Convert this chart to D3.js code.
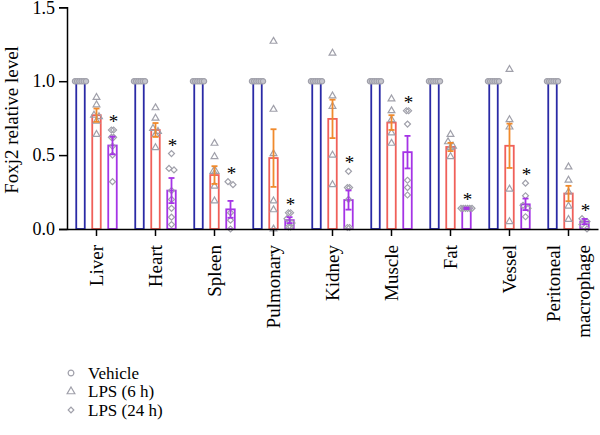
<!DOCTYPE html>
<html>
<head>
<meta charset="utf-8">
<script src="https://cdn.jsdelivr.net/npm/d3@7"></script>
<style>
  body { margin: 0; background: #fff; }
  svg text { font-family: "Liberation Serif", "DejaVu Serif", serif; }
</style>
</head>
<body>
<div id="chart"></div>
<script>
// Foxj2 relative level per organ, vehicle vs LPS 6 h vs LPS 24 h
const organs = ["Liver", "Heart", "Spleen", "Pulmonary", "Kidney", "Muscle", "Fat", "Vessel", "Peritoneal macrophage"];
const seriesNames = ["Vehicle", "LPS (6 h)", "LPS (24 h)"];

const vehicleMean = [1, 1, 1, 1, 1, 1, 1, 1, 1];
const vehicleSem = [0, 0, 0, 0, 0, 0, 0, 0, 0];
const vehiclePoints = organs.map(() => [1, 1, 1, 1, 1, 1]);

const lps6Mean = [0.77, 0.67, 0.365, 0.48, 0.745, 0.72, 0.555, 0.563, 0.24];
const lps6Sem = [0.045, 0.047, 0.06, 0.195, 0.13, 0.05, 0.028, 0.15, 0.052];
const lps6Points = [
  [0.89, 0.84, 0.77, 0.76, 0.73, 0.64],
  [0.82, 0.75, 0.68, 0.66, 0.64, 0.55],
  [0.58, 0.49, 0.39, 0.39, 0.29, 0.19],
  [1.27, 0.81, 0.51, 0.19, 0.13, 0.0],
  [1.19, 0.90, 0.83, 0.50, 0.30],
  [0.88, 0.80, 0.74, 0.65, 0.58],
  [0.64, 0.59, 0.56, 0.55, 0.49],
  [1.08, 0.74, 0.69, 0.27, 0.05],
  [0.42, 0.33, 0.25, 0.155, 0.065]
];

const lps24Mean = [0.565, 0.26, 0.133, 0.06, 0.196, 0.52, 0.14, 0.167, 0.05];
const lps24Sem = [0.06, 0.085, 0.057, 0.02, 0.065, 0.11, 0.005, 0.039, 0.018];
const lps24Points = [
  [0.67, 0.67, 0.62, 0.62, 0.56, 0.50, 0.32],
  [0.51, 0.41, 0.40, 0.26, 0.20, 0.14, 0.08, 0.03],
  [0.32, 0.30, 0.11, 0.06, 0.0],
  [0.11, 0.11, 0.07, 0.04, 0.015, 0.015],
  [0.39, 0.28, 0.28, 0.20, 0.01, 0.01],
  [0.80, 0.80, 0.71, 0.33, 0.28, 0.23],
  [0.14, 0.14, 0.14, 0.14, 0.14, 0.14],
  [0.31, 0.225, 0.16, 0.14, 0.083],
  [0.07, 0.05, 0.03, 0.0]
];

const yTicks = [0, 0.5, 1.0, 1.5];

const width = 600, height = 435;
const barColor = ["#2a2aa6", "#f0605a", "#a534e6"];
const errColor = ["#2a2aa6", "#f08a2c", "#a534e6"];
const ptColor = "#a0a0aa";

const svg = d3.select("#chart").append("svg")
  .attr("width", width)
  .attr("height", height);

const x = d3.scaleBand().domain(organs).range([67, 598]);
const xs = d3.scaleBand().domain(seriesNames).range([-24, 24]);
const y = d3.scaleLinear().domain([0, 1.5]).range([229, 7.3]);

const series = [
  { name: seriesNames[0], mean: vehicleMean, sem: vehicleSem, pts: vehiclePoints, sym: d3.symbolCircle, size: 22 },
  { name: seriesNames[1], mean: lps6Mean, sem: lps6Sem, pts: lps6Points, sym: d3.symbolTriangle, size: 20 },
  { name: seriesNames[2], mean: lps24Mean, sem: lps24Sem, pts: lps24Points, sym: d3.symbolSquare, size: 18 }
];

// points close in y are grouped into a row and spread symmetrically
function dodge(values, minDy) {
  const order = values.map((v, i) => i).sort((a, b) => values[b] - values[a]);
  const off = [];
  let row = [];
  const flush = () => {
    if (!row.length) return;
    const ys = row.map(i => y(values[i]));
    const step = d3.max(ys) - d3.min(ys) < 1 ? 2.2 : 5;
    row.forEach((i, j) => { off[i] = (j - (row.length - 1) / 2) * step; });
    row = [];
  };
  order.forEach(i => {
    if (row.length && Math.abs(y(values[i]) - y(values[row[0]])) >= minDy) flush();
    row.push(i);
  });
  flush();
  return off;
}

const center = s => xs(s) + xs.bandwidth() / 2;
const barW = 8.5;

const g = svg.append("g");

// bars
series.forEach((s, si) => {
  g.selectAll(null)
    .data(organs)
    .enter()
    .append("rect")
    .attr("x", d => x(d) + x.bandwidth() / 2 + center(s.name) - barW / 2)
    .attr("y", (d, i) => y(s.mean[i]))
    .attr("width", barW)
    .attr("height", (d, i) => y(0) - y(s.mean[i]))
    .attr("fill", "#fff")
    .attr("stroke", barColor[si])
    .attr("stroke-width", 1.8);
});

// points
series.forEach((s, si) => {
  organs.forEach((org, i) => {
    const offs = dodge(s.pts[i], 4.5);
    const cx = x(org) + x.bandwidth() / 2 + center(s.name);
    g.selectAll(null)
      .data(s.pts[i])
      .enter()
      .append("path")
      .attr("d", d3.symbol().type(s.sym).size(s.size))
      .attr("transform", (d, j) => "translate(" + (cx + offs[j]) + "," + y(d) + ")" + (si === 2 ? " rotate(45)" : ""))
      .attr("fill", si === 0 ? "#c4c4cc" : "none")
      .attr("stroke", ptColor)
      .attr("stroke-width", 1.2);
  });
});

// error bars
series.forEach((s, si) => {
  if (si === 0) return;
  organs.forEach((org, i) => {
    const cx = x(org) + x.bandwidth() / 2 + center(s.name);
    const top = y(s.mean[i] + s.sem[i]), bot = y(Math.max(0, s.mean[i] - s.sem[i]));
    const eg = g.append("g").attr("stroke", errColor[si]).attr("stroke-width", 1.8);
    eg.append("line").attr("x1", cx).attr("x2", cx).attr("y1", top).attr("y2", bot);
    eg.append("line").attr("x1", cx - 3).attr("x2", cx + 3).attr("y1", top).attr("y2", top);
    eg.append("line").attr("x1", cx - 3).attr("x2", cx + 3).attr("y1", bot).attr("y2", bot);
  });
});

// significance stars over LPS 24 h
g.selectAll(null)
  .data(organs)
  .enter()
  .append("text")
  .attr("x", d => x(d) + x.bandwidth() / 2 + center(seriesNames[2]) + 1)
  .attr("y", (d, i) => Math.min(y(d3.max(lps24Points[i])), y(lps24Mean[i] + lps24Sem[i])) - 2)
  .attr("text-anchor", "middle")
  .attr("font-size", 19)
  .attr("fill", "#000")
  .text("*");

// axes
const yAxis = svg.append("g")
  .attr("transform", "translate(67,0)")
  .call(d3.axisLeft(y).tickValues(yTicks).tickFormat(d3.format(".1f")).tickSize(8).tickPadding(4));
yAxis.select(".domain").attr("stroke-width", 1.5);
yAxis.selectAll(".tick line").attr("stroke-width", 1.5);
yAxis.selectAll("text").attr("font-size", 18).attr("fill", "#000");

const xAxis = svg.append("g")
  .attr("transform", "translate(0,229)")
  .call(d3.axisBottom(x).tickSize(7).tickSizeOuter(0).tickFormat(""));
xAxis.select(".domain").attr("stroke-width", 1.5);
xAxis.selectAll(".tick line").attr("stroke-width", 1.5);

// rotated category labels
organs.forEach(org => {
  const words = org.split(" ");
  const t = svg.append("text")
    .attr("transform", "translate(" + (x(org) + x.bandwidth() / 2) + ",245) rotate(-90)")
    .attr("text-anchor", "end")
    .attr("font-size", 19)
    .attr("fill", "#000");
  words.forEach((w, k) => {
    t.append("tspan")
      .attr("x", 0)
      .attr("y", (k - (words.length - 1) / 2) * 30)
      .attr("dy", "0.35em")
      .text(w);
  });
});

svg.append("text")
  .attr("transform", "translate(18,120) rotate(-90)")
  .attr("text-anchor", "middle")
  .attr("font-size", 19)
  .attr("fill", "#000")
  .text("Foxj2 relative level");

// legend
const legend = svg.append("g");
series.forEach((s, si) => {
  const ly = 373 + si * 18.5;
  legend.append("path")
    .attr("d", d3.symbol().type(s.sym).size(si === 2 ? 16 : 26))
    .attr("transform", "translate(71," + ly + ")" + (si === 2 ? " rotate(45)" : ""))
    .attr("fill", "none")
    .attr("stroke", ptColor)
    .attr("stroke-width", 1.2);
  legend.append("text")
    .attr("x", 88)
    .attr("y", ly)
    .attr("dy", "0.35em")
    .attr("font-size", 17)
    .attr("fill", "#000")
    .text(s.name);
});
</script>
</body>
</html>
